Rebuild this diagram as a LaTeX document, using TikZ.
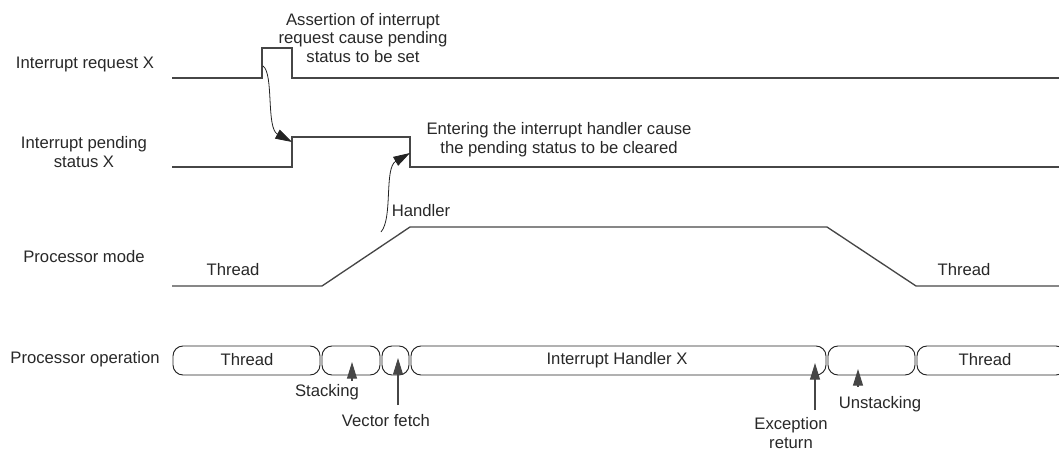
\documentclass[tikz,border=0pt]{standalone}
\usepackage{fontspec}
\setmainfont{Liberation Sans}
\usetikzlibrary{arrows.meta,positioning}
\definecolor{WaveGray}{RGB}{70,70,70}
\definecolor{TextGray}{RGB}{40,40,40}
\definecolor{BoxBlack}{RGB}{35,35,35}

\begin{document}
\begin{tikzpicture}[x=0.75pt,y=-0.75pt,>={Triangle[length=12.5pt,width=7.5pt]},
    wave/.style={WaveGray,line width=1pt},
    opbox/.style={BoxBlack,line width=0.7pt,rounded corners=7.5pt},
    txt/.style={text=TextGray,font=\fontsize{12.5}{14.2}\selectfont,align=center,inner sep=0pt},
    cause/.style={->,BoxBlack,line width=0.6pt},
    evt/.style={->,WaveGray,line width=0.8pt}]
  \useasboundingbox (0,0) rectangle (1059,450);
  % signal names
  \node[txt] (reqname) at (85,64) {Interrupt request X};
  \node[txt] (pendname) at (84,152) {Interrupt pending\\status X};
  \node[txt] (modename) at (84,257) {Processor mode};
  \node[txt] (opname) at (85,359) {Processor operation};
  % waveforms
  \draw[wave] (172,78)--(262,78)--(262,48)--(292,48)--(292,78)--(1059,78);
  \draw[wave] (172,167)--(292,167)--(292,137)--(410,137)--(410,167)--(1059,167);
  \draw[wave] (172,286)--(322,286)--(410,227)--(827,227)--(916,286)--(1059,286);
  \node[txt] (modethr1) at (233,270) {Thread};
  \node[txt] (modehdl) at (421,211) {Handler};
  \node[txt] (modethr2) at (964,270) {Thread};
  % cause and effect
  \node[txt] (assertnote) at (363,38) {Assertion of interrupt\\request cause pending\\status to be set};
  \node[txt] (enternote) at (559,140) {Entering the interrupt handler cause\\the pending status to be cleared};
  \coordinate (reqedge) at (263,66);
  \coordinate (pendset) at (292,142);
  \coordinate (hdlstart) at (381,232);
  \coordinate (pendclr) at (410,153);
  \draw[cause] (reqedge) .. controls (274,74) and (266,128) .. (pendset);
  \draw[cause] (hdlstart) .. controls (393,218) and (384,168) .. (pendclr);
  % processor operation
  \draw[opbox] (173,346) rectangle (320,375);
  \draw[opbox] (322,346) rectangle (380,375);
  \draw[opbox] (382,346) rectangle (409,375);
  \draw[opbox] (411,346) rectangle (826,375);
  \draw[opbox] (828,346) rectangle (915,375);
  \draw[opbox] (917,346) rectangle (1066,375);
  \node[txt] (opthr1) at (247,360) {Thread};
  \node[txt] (ophdl) at (617,360) {Interrupt Handler X};
  \node[txt] (opthr2) at (985,360) {Thread};
  % events
  \coordinate (stktip) at (352,362);
  \coordinate (stktail) at (352,381);
  \coordinate (vectip) at (398,358);
  \coordinate (vectail) at (398,405);
  \coordinate (exctip) at (815,363);
  \coordinate (exctail) at (815,410);
  \coordinate (unstip) at (858,369);
  \coordinate (unstail) at (858,387);
  \draw[evt] (stktail)--(stktip);
  \draw[evt] (vectail)--(vectip);
  \draw[evt] (exctail)--(exctip);
  \draw[evt] (unstail)--(unstip);
  \node[txt] (stklbl) at (327,392) {Stacking};
  \node[txt] (veclbl) at (386,421) {Vector fetch};
  \node[txt] (exclbl) at (791,433) {Exception\\return};
  \node[txt] (unslbl) at (880,404) {Unstacking};
\end{tikzpicture}
\end{document}
